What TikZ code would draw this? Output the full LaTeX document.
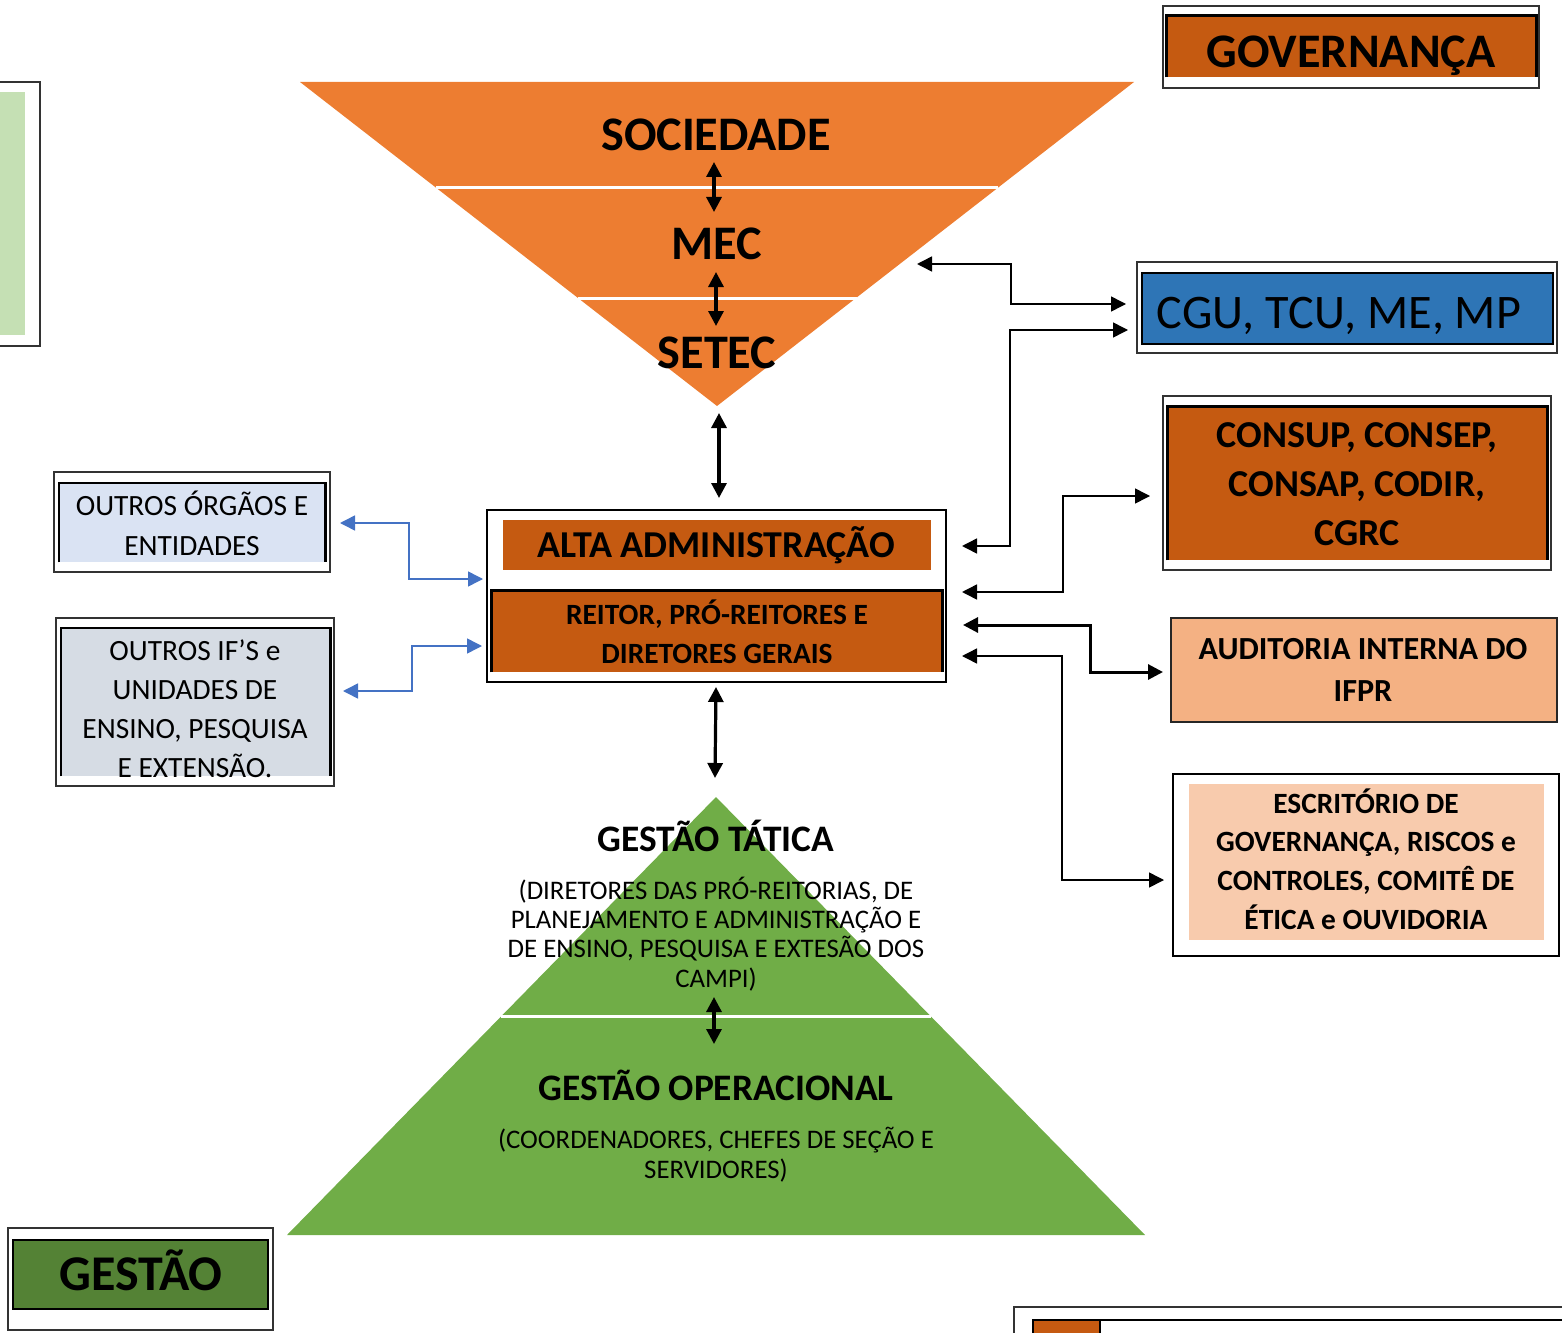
\documentclass[tikz,border=0pt]{standalone}
\usepackage{fontspec}
\setmainfont{Carlito}
\usetikzlibrary{arrows.meta,fit}
\definecolor{orgA}{HTML}{ED7D31}
\definecolor{orgD}{HTML}{C55A11}
\definecolor{grnA}{HTML}{70AD47}
\definecolor{grnD}{HTML}{548235}
\definecolor{grnL}{HTML}{C5E0B4}
\definecolor{bluA}{HTML}{2E75B6}
\definecolor{bluL}{HTML}{DAE3F3}
\definecolor{gryL}{HTML}{D6DCE4}
\definecolor{pch}{HTML}{F4B183}
\definecolor{pchL}{HTML}{F8CBAD}
\definecolor{conB}{HTML}{4472C4}
\begin{document}
\begin{tikzpicture}[x=0.5pt,y=-0.5pt,
  frame/.style={draw=black!80, line width=0.6pt, inner sep=0pt},
  filled/.style={inner sep=0pt, fill=#1},
  thick3/.style={draw=black, line width=1.4pt},
  dbl/.style={line width=1.6pt, {Triangle[length=7.5pt,width=7.5pt]}-{Triangle[length=7.5pt,width=7.5pt]}},
  conn/.style={line width=0.75pt, {Triangle[length=7.5pt,width=7.5pt]}-{Triangle[length=7.5pt,width=7.5pt]}},
  bconn/.style={conn, color=conB},
  bigb/.style={font=\fontsize{24.1}{29}\selectfont\bfseries, inner sep=0pt, anchor=base},
  bigr/.style={font=\fontsize{24.1}{29}\selectfont, inner sep=0pt, anchor=base},
  midb/.style={font=\fontsize{19}{24.5}\selectfont\bfseries, inner sep=0pt, align=center},
  smb/.style={font=\fontsize{14.7}{19.5}\selectfont\bfseries, inner sep=0pt, align=center},
  audb/.style={font=\fontsize{16.1}{21}\selectfont\bfseries, inner sep=0pt, align=center},
  lreg/.style={font=\fontsize{14.7}{20}\selectfont, inner sep=0pt, align=center},
  treg/.style={font=\fontsize{13.4}{14.6}\selectfont, inner sep=0pt, align=center},
  hdb/.style={font=\fontsize{18.7}{22}\selectfont\bfseries, inner sep=0pt, anchor=base}
]
\useasboundingbox (0,0) rectangle (1562,1332);
\clip (0,0) rectangle (1562,1332);

% ---------- top-left partial box ----------
\node[frame, fit={(-30,82) (40,346)}] (tlOuter) {};
\node[filled=grnL, fit={(-30,92) (25,335)}] (tlInner) {};

% ---------- GOVERNANCA ----------
\node[frame, fit={(1163,6) (1539,88)}] (govOuter) {};
\node[filled=orgD, fit={(1167,16) (1536,77)}] (govInner) {};
\draw[thick3] (govInner.south west) -- (govInner.north west) -- (govInner.north east) -- (govInner.south east);
\node[bigb] (govText) at (1351,68) {GOVERNANÇA};

% ---------- orange inverted triangle ----------
\fill[orgA] (300,82) -- (1134,82) -- (717,406) -- cycle;
\draw[white, line width=1.5pt] (436,188) -- (998,188);
\draw[white, line width=1.5pt] (578,298) -- (857,298);
\coordinate (orgApex) at (717,406);
\node[bigb] (soc) at (716,151) {SOCIEDADE};
\node[bigb] (mec) at (717,259) {MEC};
\node[bigb] (setec) at (717,368) {SETEC};
\coordinate (d1a) at (714,162); \coordinate (d1b) at (714,212);
\coordinate (d2a) at (716,272); \coordinate (d2b) at (716,326);
\draw[dbl] (d1a) -- (d1b);
\draw[dbl] (d2a) -- (d2b);

% ---------- CGU ----------
\node[frame, fit={(1137,262) (1557,353)}] (cguOuter) {};
\node[filled=bluA, draw=black, line width=1.4pt, fit={(1142,273) (1553,344)}] (cguInner) {};
\node[bigr] (cguText) at (1339,328) {CGU, TCU, ME, MP};

% ---------- CONSUP ----------
\node[frame, fit={(1163,396) (1551,570)}] (conOuter) {};
\node[filled=orgD, fit={(1168,407) (1547,560)}] (conInner) {};
\draw[thick3] (conInner.south west) -- (conInner.north west) -- (conInner.north east) -- (conInner.south east);
\node[midb] (conText) at (1357,484) {CONSUP, CONSEP,\\CONSAP, CODIR,\\CGRC};

% ---------- AUDITORIA ----------
\node[filled=pch, draw=black!85, line width=0.8pt, fit={(1171,618) (1557,722)}] (aud) {};
\node[audb] (audText) at (1363,670) {AUDITORIA INTERNA DO\\IFPR};

% ---------- ESCRITORIO ----------
\node[draw=black, line width=0.8pt, inner sep=0pt, fit={(1173,774) (1559,956)}] (escOuter) {};
\node[filled=pchL, fit={(1189,784) (1544,940)}] (escInner) {};
\node[smb, font=\fontsize{14.7}{19.4}\selectfont\bfseries] (escText) at (1366,859) {ESCRITÓRIO DE\\GOVERNANÇA, RISCOS e\\CONTROLES, COMITÊ DE\\ÉTICA e OUVIDORIA};

% ---------- ALTA ADMINISTRACAO ----------
\node[draw=black, line width=1.3pt, inner sep=0pt, fit={(487,510) (946,682)}] (alta) {};
\node[filled=orgD, fit={(503,520) (931,570)}] (altaHead) {};
\node[midb, anchor=base] (altaText) at (716,557) {ALTA ADMINISTRAÇÃO};
\node[filled=orgD, fit={(492,591) (942,672)}] (reit) {};
\draw[thick3] (reit.south west) -- (reit.north west) -- (reit.north east) -- (reit.south east);
\node[smb] (reitText) at (717,632) {REITOR, PRÓ-REITORES E\\DIRETORES GERAIS};

% ---------- OUTROS ORGAOS ----------
\node[frame, fit={(54,472) (330,572)}] (ooOuter) {};
\node[filled=bluL, fit={(59,483) (325,562)}] (ooInner) {};
\draw[thick3, line width=1.1pt] (ooInner.south west) -- (ooInner.north west) -- (ooInner.north east) -- (ooInner.south east);
\node[lreg] (ooText) at (192,523) {OUTROS ÓRGÃOS E\\ENTIDADES};

% ---------- OUTROS IFS ----------
\node[frame, fit={(56,618) (334,786)}] (oiOuter) {};
\node[filled=gryL, fit={(61,628) (330,776)}] (oiInner) {};
\draw[thick3, line width=1.1pt] (oiInner.south west) -- (oiInner.north west) -- (oiInner.north east) -- (oiInner.south east);
\begin{scope}
\clip (61,628) rectangle (330,777);
\node[lreg, font=\fontsize{14.7}{19.5}\selectfont] (oiText) at (195,709) {OUTROS IF’S e\\UNIDADES DE\\ENSINO, PESQUISA\\E EXTENSÃO.};
\end{scope}

% ---------- green triangle ----------
\fill[grnA] (716,797) -- (1145,1235) -- (287,1235) -- cycle;
\draw[white, line width=1.5pt] (501,1016) -- (931,1016);
\node[hdb] (gtText) at (716,851) {GESTÃO TÁTICA};
\node[treg] (gtSub) at (716,934) {(DIRETORES DAS PRÓ-REITORIAS, DE\\PLANEJAMENTO E ADMINISTRAÇÃO E\\DE ENSINO, PESQUISA E EXTESÃO DOS\\CAMPI)};
\node[hdb] (goText) at (716,1100) {GESTÃO OPERACIONAL};
\node[treg, font=\fontsize{13.4}{15}\selectfont] (goSub) at (716,1155) {(COORDENADORES, CHEFES DE SEÇÃO E\\SERVIDORES)};
\coordinate (d5a) at (714,997); \coordinate (d5b) at (714,1044);
\draw[dbl] (d5a) -- (d5b);

% ---------- GESTAO ----------
\node[frame, fit={(8,1228) (273,1330)}] (gesOuter) {};
\node[filled=grnD, draw=black, line width=1.4pt, fit={(13,1240) (268,1309)}] (gesInner) {};
\node[bigb, font=\fontsize{25}{30}\selectfont\bfseries] (gesText) at (141,1290) {GESTÃO};

% ---------- bottom-right partial ----------
\node[frame, fit={(1014,1307) (1600,1360)}] (brOuter) {};
\node[filled=orgD, fit={(1033,1320) (1100,1360)}] (brFill) {};
\node[draw=black, line width=1.4pt, inner sep=0pt, fit={(1033,1320) (1600,1360)}] (brInner) {};
\draw[black, line width=1.4pt] (1100,1320) -- (1100,1340);

% ---------- vertical double arrows ----------
\coordinate (d3a) at (719,413); \coordinate (d3b) at (719,498);
\draw[dbl] (d3a) -- (d3b);
\coordinate (d4a) at (716,687); \coordinate (d4b) at (715,778);
\draw[dbl] (d4a) -- (d4b);

% ---------- connectors right ----------
\coordinate (c1a) at (917,264); \coordinate (c1b) at (1126,304);
\draw[conn] (c1a) -- (1011,264) |- (c1b);
\coordinate (c2a) at (962,546); \coordinate (c2b) at (1128,330);
\draw[conn] (c2a) -- (1010,546) |- (c2b);
\coordinate (c3a) at (962,592); \coordinate (c3b) at (1150,496);
\draw[conn] (c3a) -- (1063,592) |- (c3b);
\coordinate (c4a) at (963,625); \coordinate (c4b) at (1163,672);
\draw[conn, line width=1.5pt] (c4a) -- (1090,625) |- (c4b);
\coordinate (c5a) at (962,656); \coordinate (c5b) at (1164,880);
\draw[conn] (c5a) -- (1062,656) |- (c5b);

% ---------- connectors left (blue) ----------
\coordinate (b1a) at (340,523); \coordinate (b1b) at (483,579);
\draw[bconn] (b1a) -- (409,523) |- (b1b);
\coordinate (b2a) at (343,691); \coordinate (b2b) at (482,646);
\draw[bconn] (b2a) -- (412,691) |- (b2b);
\end{tikzpicture}
\end{document}
